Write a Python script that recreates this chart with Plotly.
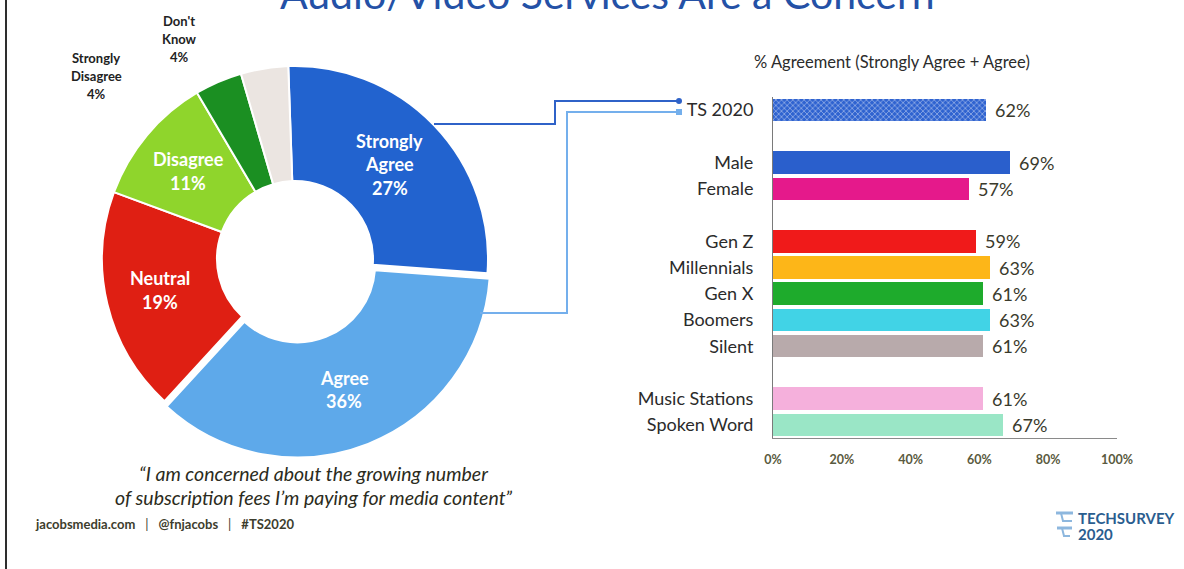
import math
import plotly.graph_objects as go

W, H = 1184, 569
FONT = "Lato"


def fx(px):
    return px / W


def fy(py):
    return 1 - py / H


# ---- donut data ----
pie_labels = ["Strongly Agree", "Agree", "Neutral", "Disagree", "Strongly Disagree", "Don't Know"]
pie_values = [27, 36, 19, 11, 4, 4]
pie_colors = ["#2263cf", "#5ea9ea", "#df1f13", "#8fd52c", "#1b8f22", "#ebe5e1"]
pie_pull = [0, 0.03, 0, 0, 0, 0]

# ---- bar data ----
bar_categories = ["TS 2020", "Male", "Female", "Gen Z", "Millennials", "Gen X",
                  "Boomers", "Silent", "Music Stations", "Spoken Word"]
bar_group_sizes = [1, 2, 5, 2]
bar_values = [62, 69, 57, 59, 63, 61, 63, 61, 61, 67]
bar_colors = ["#2f63d0", "#2a5fcc", "#e5198b", "#f01a1a", "#fdb618", "#1eab2c",
              "#41d3e6", "#b8aaab", "#f5b0dc", "#9ae6c6"]
x_ticks = [0, 20, 40, 60, 80, 100]

# slot positions: one empty row between groups
slots = []
pos = 0
for size in bar_group_sizes:
    for _ in range(size):
        slots.append(pos)
        pos += 1
    pos += 1
last_slot = slots[-1]

fig = go.Figure()

# donut geometry (pixels)
cx, cy = 295, 259
r_out = 193
r_in = 78
rotation = -2
pad = r_out * (1 + max(pie_pull))

fig.add_trace(go.Pie(
    labels=pie_labels,
    values=pie_values,
    hole=r_in / r_out,
    sort=False,
    direction="clockwise",
    rotation=rotation,
    pull=pie_pull,
    marker=dict(colors=pie_colors, line=dict(color="white", width=2)),
    textinfo="none",
    hoverinfo="label+percent",
    showlegend=False,
    automargin=False,
    domain=dict(x=[fx(cx - pad), fx(cx + pad)], y=[fy(cy + pad), fy(cy - pad)]),
))

# horizontal bars
patterns = ["x"] + [""] * (len(bar_values) - 1)
fig.add_trace(go.Bar(
    x=bar_values,
    y=slots,
    orientation="h",
    width=0.86,
    marker=dict(
        color=bar_colors,
        line=dict(width=0),
        pattern=dict(shape=patterns, fillmode="overlay", fgcolor="#17389a",
                     size=4, solidity=0.35),
    ),
    showlegend=False,
    hoverinfo="x+y",
    xaxis="x",
    yaxis="y",
))

annotations = []

# title (runs off the top edge)
annotations.append(dict(
    text="Audio/Video Services Are a Concern", x=fx(607), y=fy(20),
    xref="paper", yref="paper", xanchor="center", yanchor="bottom",
    showarrow=False, font=dict(family=FONT, size=41, color="#2451a6"),
))

# donut labels
total = sum(pie_values)
cum = 0
r_lab = (r_in + r_out) / 2
outside_pos = {4: (96, 58), 5: (179, 21)}
for i, (lab, v) in enumerate(zip(pie_labels, pie_values)):
    mid = rotation + (cum + v / 2) / total * 360
    cum += v
    lines = lab.split(" ") + [f"{v}%"]
    if i in outside_pos:
        lx, ly0 = outside_pos[i]
        step, size, color = 18, 13, "#222222"
    else:
        shift = pie_pull[i] * r_out
        rr = r_lab + shift
        lx = cx + rr * math.sin(math.radians(mid)) - 3
        ly = cy - rr * math.cos(math.radians(mid)) - 1
        step, size, color = 23.5, 18, "white"
        ly0 = ly - step * (len(lines) - 1) / 2
    for k, t in enumerate(lines):
        annotations.append(dict(
            text=f"<b>{t}</b>", x=fx(lx), y=fy(ly0 + k * step),
            xref="paper", yref="paper", xanchor="center", yanchor="middle",
            showarrow=False, font=dict(family=FONT, size=size, color=color),
        ))

# bar chart heading
annotations.append(dict(
    text="% Agreement (Strongly Agree + Agree)", x=fx(892), y=fy(62),
    xref="paper", yref="paper", xanchor="center", yanchor="middle",
    showarrow=False, font=dict(family=FONT, size=16.5, color="#2b2b2b"),
))

# bar value labels
for v, s in zip(bar_values, slots):
    annotations.append(dict(
        text=f"{v}%", x=v, y=s, xref="x", yref="y", xanchor="left", yanchor="middle",
        xshift=7, showarrow=False, font=dict(family=FONT, size=18, color="#3a3a2c"),
    ))

# quote
quote_lines = ["\u201cI am concerned about the growing number",
               "of subscription fees I\u2019m paying for media content\u201d"]
for k, t in enumerate(quote_lines):
    annotations.append(dict(
        text=f"<i>{t}</i>", x=fx(313), y=fy(473 + 24 * k),
        xref="paper", yref="paper", xanchor="center", yanchor="middle",
        showarrow=False, font=dict(family=FONT, size=19.5, color="#2b2b20"),
    ))

# footer
sep = "\u00a0" * 3 + "|" + "\u00a0" * 3
annotations.append(dict(
    text=f"<b>jacobsmedia.com</b>{sep}<b>@fnjacobs</b>{sep}<b>#TS2020</b>",
    x=fx(33), y=fy(524), xref="paper", yref="paper", xanchor="left", yanchor="middle",
    showarrow=False, font=dict(family=FONT, size=13, color="#3d3d2d"),
))

# logo text
annotations.append(dict(
    text="<b>TECHSURVEY</b>", x=fx(1076), y=fy(518), xref="paper", yref="paper",
    xanchor="left", yanchor="middle", showarrow=False,
    font=dict(family=FONT, size=15, color="#2a5d8f"),
))
annotations.append(dict(
    text="<b>2020</b>", x=fx(1076), y=fy(534), xref="paper", yref="paper",
    xanchor="left", yanchor="middle", showarrow=False,
    font=dict(family=FONT, size=15, color="#2a5d8f"),
))


def path(points):
    return "M " + " L ".join(f"{fx(x)},{fy(y)}" for x, y in points)


shapes = [
    # page frame edge
    dict(type="line", xref="paper", yref="paper", x0=fx(6), x1=fx(6), y0=0, y1=1,
         line=dict(color="#2e2e2e", width=2)),
    # connectors from donut to TS 2020 bar
    dict(type="path", xref="paper", yref="paper",
         path=path([(434, 124), (555, 124), (555, 101), (679, 101)]),
         line=dict(color="#2f62c8", width=2)),
    dict(type="path", xref="paper", yref="paper",
         path=path([(480, 313), (567, 313), (567, 112), (679, 112)]),
         line=dict(color="#74afec", width=2)),
    dict(type="circle", xref="paper", yref="paper",
         x0=fx(676), x1=fx(682), y0=fy(104), y1=fy(98),
         fillcolor="#2f62c8", line=dict(width=0)),
    dict(type="rect", xref="paper", yref="paper",
         x0=fx(676), x1=fx(682), y0=fy(115), y1=fy(109),
         fillcolor="#74afec", line=dict(width=0)),
    # logo mark
    dict(type="path", xref="paper", yref="paper",
         path=path([(1056, 513), (1073, 513)]), line=dict(color="#8db7de", width=3)),
    dict(type="path", xref="paper", yref="paper",
         path=path([(1061, 513), (1063, 521), (1072, 521)]), line=dict(color="#8db7de", width=2)),
    dict(type="path", xref="paper", yref="paper",
         path=path([(1057, 528), (1072, 528)]), line=dict(color="#8db7de", width=3)),
    dict(type="path", xref="paper", yref="paper",
         path=path([(1062, 528), (1064, 536), (1070, 536)]), line=dict(color="#8db7de", width=2)),
]

fig.update_layout(
    width=W, height=H,
    margin=dict(l=0, r=0, t=0, b=0, pad=0, autoexpand=False),
    paper_bgcolor="white",
    plot_bgcolor="white",
    font=dict(family=FONT),
    showlegend=False,
    bargap=0,
    xaxis=dict(
        domain=[fx(773), fx(1117)], range=[0, 100], anchor="y",
        automargin=False,
        tickvals=x_ticks, ticktext=[f"{t}%" for t in x_ticks],
        showline=True, linecolor="#8a8a8a", linewidth=1,
        showgrid=False, zeroline=False, ticks="",
        ticklabelstandoff=10,
        tickfont=dict(family=FONT, size=12.5, color="#5a5a40", weight="bold"),
        fixedrange=True,
    ),
    yaxis=dict(
        domain=[fy(438), fy(97)], range=[last_slot + 0.5, -0.5], anchor="x",
        automargin=False,
        tickvals=slots, ticktext=bar_categories,
        showline=True, linecolor="#7a7a7a", linewidth=1,
        showgrid=False, zeroline=False, ticks="",
        ticklabelstandoff=15,
        tickfont=dict(family=FONT, size=18, color="#2b2b2b"),
        fixedrange=True,
    ),
    annotations=annotations,
    shapes=shapes,
)

fig.write_html("out.html")
